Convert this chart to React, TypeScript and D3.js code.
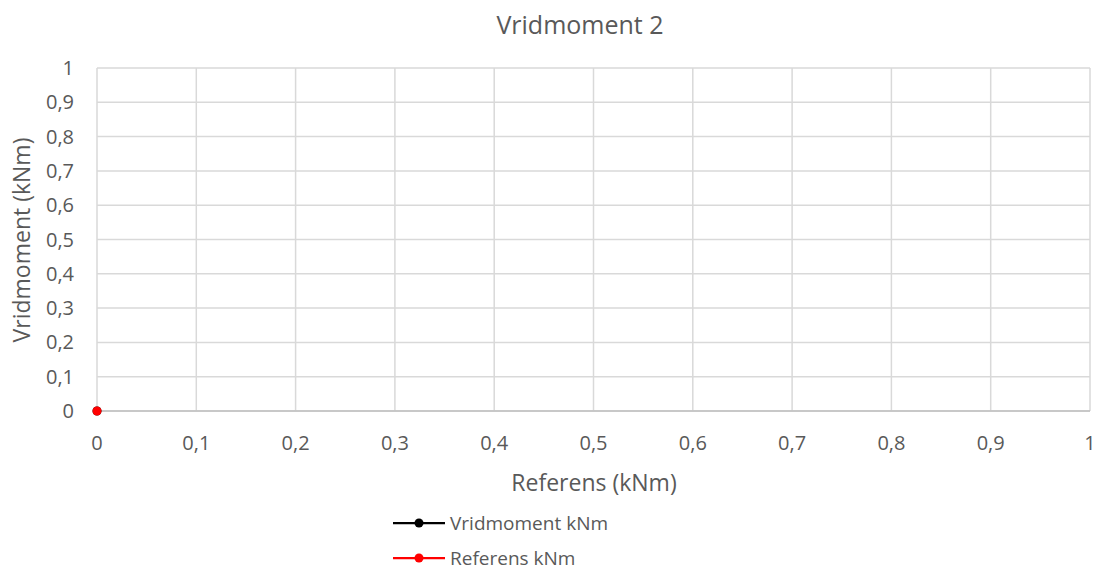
import React, { useEffect, useRef } from "react";
import * as d3 from "d3";

const title = "Vridmoment 2";
const xLabel = "Referens (kNm)";
const yLabel = "Vridmoment (kNm)";
const seriesNames = ["Vridmoment kNm", "Referens kNm"];
const seriesColors = ["#000000", "#ff0000"];
const vridX = [0];
const vridY = [0];
const refX = [0];
const refY = [0];
const ticks = [0, 0.1, 0.2, 0.3, 0.4, 0.5, 0.6, 0.7, 0.8, 0.9, 1];

const App: React.FC = () => {
  const svgRef = useRef<SVGSVGElement | null>(null);
  const width = 1098;
  const height = 571;
  const left = 97;
  const right = 1090;
  const top = 68;
  const bottom = 411;
  const font = "Open Sans, Noto Sans, sans-serif";

  useEffect(() => {
    document.body.style.margin = "0";
    const svg = d3.select(svgRef.current);
    svg.selectAll("*").remove();
    svg.attr("width", width).attr("height", height);

    const x = d3.scaleLinear().domain([0, 1]).range([left, right]);
    const y = d3.scaleLinear().domain([0, 1]).range([bottom, top]);
    const fmt = (d: number) => d3.format("~g")(d).replace(".", ",");

    const grid = svg.append("g");
    ticks.forEach(t => {
      grid.append("line")
        .attr("x1", x(t)).attr("x2", x(t))
        .attr("y1", top).attr("y2", bottom)
        .attr("stroke", "#d9d9d9").attr("stroke-width", 1.5);
      grid.append("line")
        .attr("x1", left).attr("x2", right)
        .attr("y1", y(t)).attr("y2", y(t))
        .attr("stroke", "#d9d9d9").attr("stroke-width", 1.5);
    });
    svg.append("line")
      .attr("x1", left).attr("x2", right)
      .attr("y1", bottom).attr("y2", bottom)
      .attr("stroke", "#bfbfbf").attr("stroke-width", 1.5);

    svg.append("g").selectAll("text").data(ticks).enter().append("text")
      .attr("x", 74).attr("y", d => y(d)).attr("dy", "0.35em")
      .attr("text-anchor", "end")
      .style("font-family", font).style("font-size", "20px").attr("fill", "#595959")
      .text(fmt);
    svg.append("g").selectAll("text").data(ticks).enter().append("text")
      .attr("x", d => x(d)).attr("y", 443).attr("dy", "0.35em")
      .attr("text-anchor", "middle")
      .style("font-family", font).style("font-size", "20px").attr("fill", "#595959")
      .text(fmt);

    svg.append("text").attr("x", 580).attr("y", 25).attr("dy", "0.35em")
      .attr("text-anchor", "middle").style("font-family", font).style("font-size", "25px")
      .attr("fill", "#595959").text(title);
    svg.append("text").attr("x", 594).attr("y", 483).attr("dy", "0.35em")
      .attr("text-anchor", "middle").style("font-family", font).style("font-size", "23px")
      .attr("fill", "#595959").text(xLabel);
    svg.append("text").attr("transform", `translate(22, 240) rotate(-90)`).attr("dy", "0.35em")
      .attr("text-anchor", "middle").style("font-family", font).style("font-size", "23px")
      .attr("fill", "#595959").text(yLabel);

    const series = [
      { xs: vridX, ys: vridY },
      { xs: refX, ys: refY },
    ];
    series.forEach((s, i) => {
      const pts = s.xs.map((v, j) => [x(v), y(s.ys[j])] as [number, number]);
      svg.append("path").datum(pts)
        .attr("fill", "none").attr("stroke", seriesColors[i]).attr("stroke-width", 2.25)
        .attr("d", d3.line());
      svg.append("g").selectAll("circle").data(pts).enter().append("circle")
        .attr("cx", d => d[0]).attr("cy", d => d[1]).attr("r", 4.5)
        .attr("fill", seriesColors[i]);
    });

    const legend = svg.selectAll(".legend").data(seriesNames).enter().append("g")
      .attr("class", "legend")
      .attr("transform", (d, i) => `translate(393, ${523 + i * 35})`);
    legend.append("line").attr("x1", 0).attr("x2", 52).attr("y1", 0).attr("y2", 0)
      .attr("stroke", (d, i) => seriesColors[i]).attr("stroke-width", 2.25);
    legend.append("circle").attr("cx", 26).attr("cy", 0).attr("r", 4.5)
      .attr("fill", (d, i) => seriesColors[i]);
    legend.append("text").attr("x", 57).attr("y", 0).attr("dy", "0.35em")
      .style("font-family", font).style("font-size", "19px").attr("fill", "#595959")
      .text(d => d);
  }, []);

  return <svg ref={svgRef}></svg>;
};

export default App;
